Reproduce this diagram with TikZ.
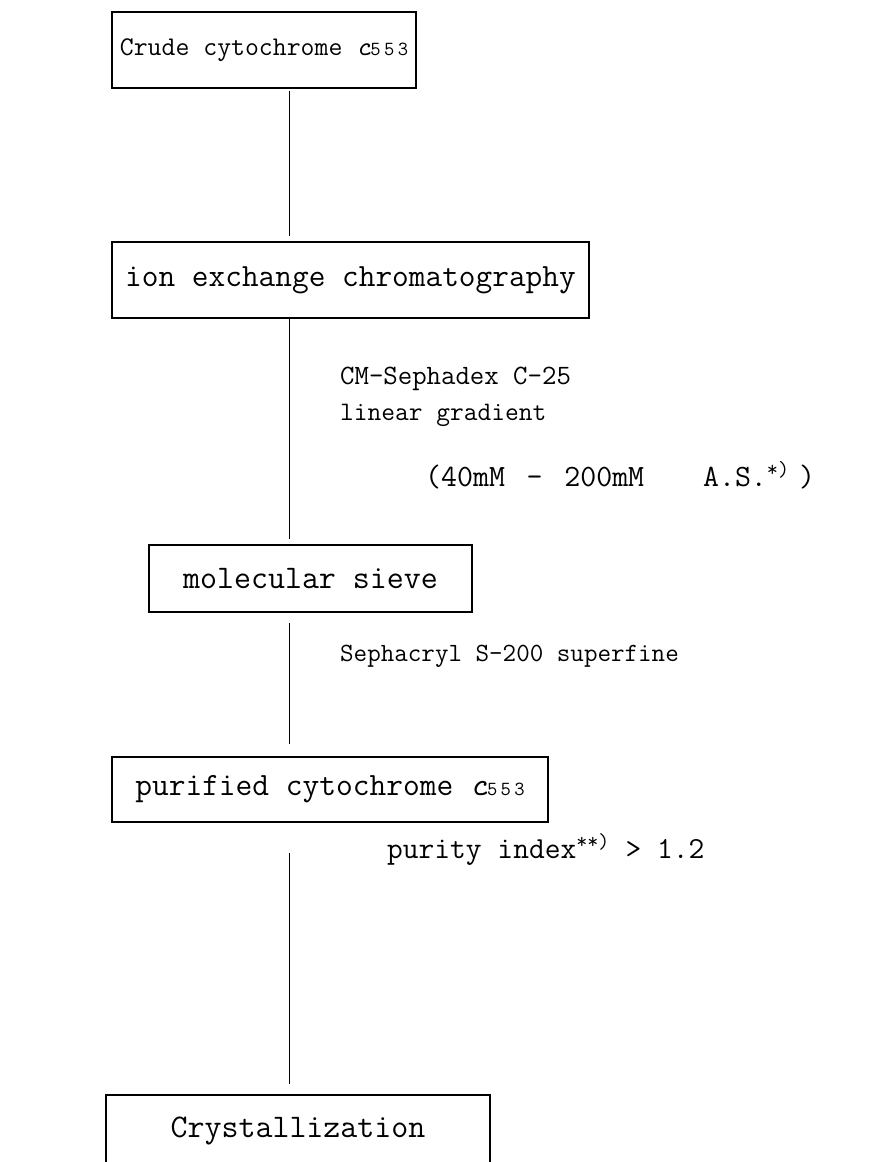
\documentclass[tikz,border=0pt]{standalone}
\begin{document}
\begin{tikzpicture}[x=1pt,y=-1pt,
  stepbox/.style={draw, line width=1.3pt, inner sep=0pt, font=\ttfamily\fontsize{30}{34}\selectfont},
  finalbox/.style={stepbox, line width=2.6pt},
  lab/.style={anchor=base west, inner sep=0pt, font=\ttfamily\fontsize{28}{32}\selectfont},
  conn/.style={line width=1pt}]
\useasboundingbox (0,0) rectangle (886,1162);
\clip (0,0) rectangle (886,1162);
\newcommand{\cfff}{{\itshape c}{\fontsize{20}{22}\selectfont 5\,5\,3}}
% boxes
\node[stepbox, minimum width=304pt, minimum height=76pt, font=\ttfamily\fontsize{27}{30}\selectfont] (b1) at (264,50) {Crude cytochrome \cfff};
\node[stepbox, minimum width=477pt, minimum height=76pt, font=\ttfamily\fontsize{32.4}{36}\selectfont] (b2) at (350.5,280) {ion exchange chromatography};
\node[stepbox, minimum width=323pt, minimum height=67pt, font=\ttfamily\fontsize{33}{38}\selectfont] (b3) at (310.5,578.5) {molecular sieve};
\node[stepbox, minimum width=436pt, minimum height=65pt, font=\ttfamily\fontsize{32.5}{36}\selectfont] (b4) at (330,789.5) {purified cytochrome \cfff};
\node[finalbox, minimum width=384pt, minimum height=72pt, font=\ttfamily\fontsize{33}{38}\selectfont] (b5) at (298,1131) {Crystallization};
% connectors
\coordinate (ax) at (289,0);
\draw[conn, shorten <=2pt, shorten >=5pt] (ax |- b1.south) -- (ax |- b2.north);
\draw[conn, shorten >=5pt] (ax |- b2.south) -- (ax |- b3.north);
\draw[conn, shorten <=10pt, shorten >=12pt] (ax |- b3.south) -- (ax |- b4.north);
\draw[conn, shorten <=30pt, shorten >=10pt] (ax |- b4.south) -- (ax |- b5.north);
% labels
\node[lab] (l1) at (340,384) {CM-Sephadex C-25};
\node[lab, font=\ttfamily\fontsize{26.7}{30}\selectfont] (l2) at (340,420) {linear gradient};
\node[lab, font=\ttfamily\fontsize{31}{34}\selectfont] (l3) at (425,486) {(40mM\hspace{0.7em}-\hspace{0.7em}200mM\hspace{1.9em}A.S.\textsuperscript{*)}\hspace{0.3em})};
\node[lab, font=\ttfamily\fontsize{26.3}{30}\selectfont] (l4) at (340,661) {Sephacryl S-200 superfine};
\node[lab, font=\ttfamily\fontsize{30.6}{34}\selectfont] (l5) at (387,858) {purity index\textsuperscript{**)} > 1.2};
\end{tikzpicture}
\end{document}
